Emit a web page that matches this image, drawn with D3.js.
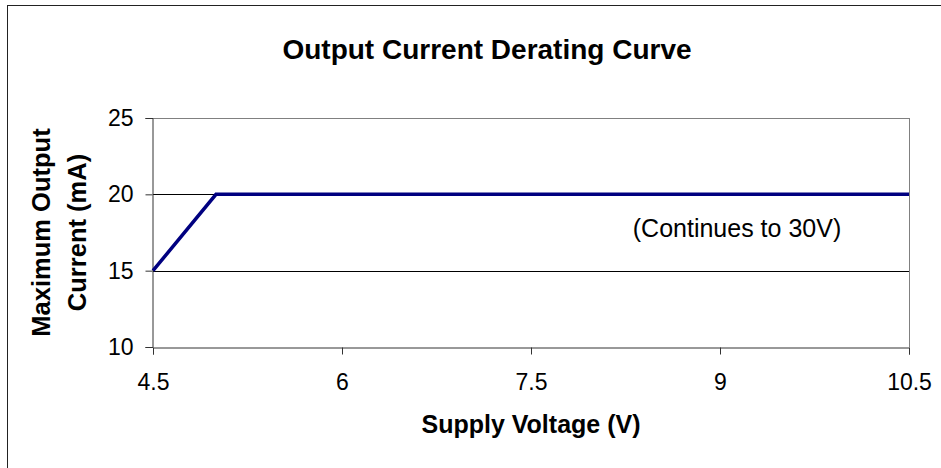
<!DOCTYPE html>
<html><head><meta charset="utf-8">
<script src="https://cdn.jsdelivr.net/npm/d3@7"></script>
<style>html,body{margin:0;padding:0;background:#fff;}svg{display:block;}</style>
</head><body>
<svg id="c" width="941" height="468"></svg>
<script>
const voltage = [4.5, 5, 10.5];
const current = [15, 20, 20];
const xTicks = [4.5, 6, 7.5, 9, 10.5];
const yTicks = [10, 15, 20, 25];
const titleText = "Output Current Derating Curve";
const xTitle = "Supply Voltage (V)";
const yTitleLines = ["Maximum Output", "Current (mA)"];
const note = "(Continues to 30V)";

const svg = d3.select("#c");
const font = "Liberation Sans, Arial, sans-serif";
const L = 153, R = 909, T = 118, B = 347;
const x = d3.scaleLinear().domain([4.5, 10.5]).range([L, R]);
const y = d3.scaleLinear().domain([10, 25]).range([B, T]);

// outer chart border (extends beyond the visible frame)
svg.append("rect").attr("x", 7.5).attr("y", 5.5).attr("width", 1000).attr("height", 1000)
  .attr("fill", "none").attr("stroke", "#222").attr("stroke-width", 1);

// gridlines
svg.append("g").selectAll("line").data(yTicks.filter(d => d !== 10)).join("line")
  .attr("x1", L).attr("x2", R)
  .attr("y1", d => Math.round(y(d)) + 0.5).attr("y2", d => Math.round(y(d)) + 0.5)
  .attr("stroke", d => d === 25 ? "#808080" : "#000").attr("stroke-width", 1);
// right plot border
svg.append("line").attr("x1", R + 0.5).attr("x2", R + 0.5).attr("y1", T).attr("y2", B)
  .attr("stroke", "#808080");

// axes
const xAxis = d3.axisBottom(x).tickValues(xTicks).tickSize(7).tickPadding(19).tickFormat(d3.format("~g"));
const gx = svg.append("g").attr("transform", `translate(0,${B + 0.5})`).call(xAxis);
const yAxis = d3.axisLeft(y).tickValues(yTicks).tickSize(7).tickPadding(12).tickFormat(d3.format("d"));
const gy = svg.append("g").attr("transform", `translate(${L - 0.5},0)`).call(yAxis);
[gx, gy].forEach(g => {
  g.select(".domain").attr("stroke", "#333");
  g.selectAll(".tick line").attr("stroke", "#333");
  g.selectAll(".tick text").attr("font-family", font).attr("font-size", 23).attr("fill", "#000");
});

// line
const line = d3.line().x((d, i) => x(voltage[i])).y(d => y(d));
svg.append("path").datum(current).attr("d", line)
  .attr("fill", "none").attr("stroke", "#000080").attr("stroke-width", 3.5)
  .attr("stroke-linejoin", "miter");

// annotation
svg.append("text").attr("x", 737).attr("y", 237).attr("text-anchor", "middle")
  .attr("font-family", font).attr("font-size", 25).text(note);

// title
svg.append("text").attr("x", 487).attr("y", 59).attr("text-anchor", "middle")
  .attr("font-family", font).attr("font-size", 28).attr("font-weight", "bold").text(titleText);

// x title
svg.append("text").attr("x", (L + R) / 2).attr("y", 433).attr("text-anchor", "middle")
  .attr("font-family", font).attr("font-size", 25).attr("font-weight", "bold").text(xTitle);

// y title
const yt = svg.append("text").attr("transform", `translate(0,${(T + B) / 2}) rotate(-90)`)
  .attr("text-anchor", "middle").attr("font-family", font).attr("font-size", 25.5).attr("font-weight", "bold");
yTitleLines.forEach((t, i) => yt.append("tspan").attr("x", 0).attr("y", 50 + i * 36).text(t));
</script>
</body></html>
